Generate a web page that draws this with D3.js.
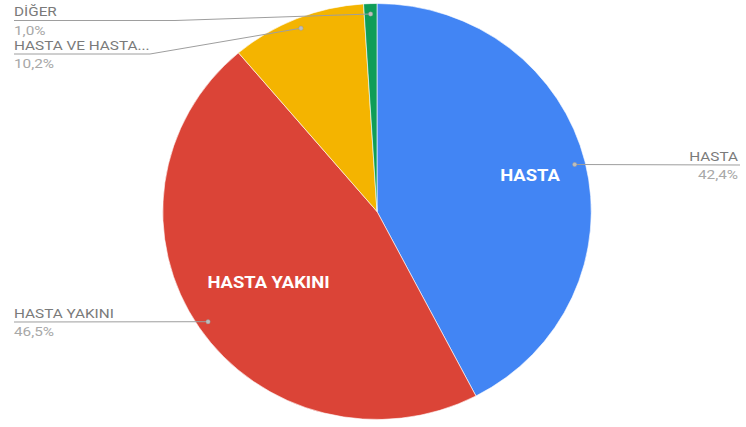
<!DOCTYPE html>
<html>
<head>
<meta charset="utf-8">
<script src="https://cdn.jsdelivr.net/npm/d3@7"></script>
<style>
  html, body { margin: 0; padding: 0; background: #fff; }
  svg { display: block; }
  text { font-family: Roboto, "Noto Sans", Arial, sans-serif; }
</style>
</head>
<body>
<svg id="chart" width="746" height="427"></svg>
<script>
// Distribution of respondents
const categories = ["HASTA", "HASTA YAKINI", "HASTA VE HASTA YAKINI", "DİĞER"];
const shortNames = ["HASTA", "HASTA YAKINI", "HASTA VE HASTA...", "DİĞER"];
const values = [42.4, 46.5, 10.2, 1.0];
const colors = ["#4285F4", "#DB4437", "#F4B400", "#0F9D58"];
const showInside = [true, true, false, false];

const W = 746, H = 427;
const cx = 377, cy = 211.5;
const r = 208;        // pie radius
const sx = 1.03;      // slight horizontal stretch of the pie
const textSx = 1.18;  // horizontal stretch of outside labels
const insideSx = 1.15;

const svg = d3.select("#chart");

const pie = d3.pie().sort(null).value(d => d.value);
const data = categories.map((c, i) => ({ name: c, short: shortNames[i], value: values[i], color: colors[i], inside: showInside[i] }));
const arcs = pie(data);

const arc = d3.arc().innerRadius(0).outerRadius(r);

const g = svg.append("g").attr("transform", `translate(${cx},${cy}) scale(${sx},1)`);
g.selectAll("path.slice")
  .data(arcs)
  .enter().append("path")
  .attr("class", "slice")
  .attr("d", arc)
  .attr("fill", d => d.data.color)
  .attr("stroke", "#fff")
  .attr("stroke-width", 0.6);

// Inside labels, placed along each slice's mid-angle
const insideRadius = { "HASTA": 0.735, "HASTA YAKINI": 0.61 };
function midAngle(d) { return (d.startAngle + d.endAngle) / 2; }

svg.selectAll("text.inside")
  .data(arcs.filter(d => d.data.inside))
  .enter().append("text")
  .attr("class", "inside")
  .attr("transform", d => {
    const a = midAngle(d), k = r * insideRadius[d.data.name];
    return `translate(${cx + sx * k * Math.sin(a)},${cy - k * Math.cos(a)}) scale(${insideSx},1)`;
  })
  .attr("text-anchor", "middle")
  .attr("dy", "0.36em")
  .attr("fill", "#fff")
  .attr("font-weight", "bold")
  .attr("font-size", 16)
  .text(d => d.data.name);

// Leader-line anchors on the slices
function anchor(d) {
  const a = midAngle(d);
  const k = r * 0.95;
  return [cx + sx * k * Math.sin(a), cy - k * Math.cos(a)];
}

// Label placement: side and line height for each slice
const labelLayout = {
  "HASTA":                 { side: "right", y: 165, bend: null },
  "HASTA YAKINI":          { side: "left",  y: 322, bend: null },
  "HASTA VE HASTA YAKINI": { side: "left",  y: 54,  bend: 150 },
  "DİĞER":                 { side: "left",  y: 20.5, bend: 175 }
};

const lineColor = "#9e9e9e";
const labelG = svg.append("g");

arcs.forEach(d => {
  const L = labelLayout[d.data.name];
  const [ax, ay] = anchor(d);
  let pts;
  if (L.side === "right") {
    pts = [[ax, ay], [740, L.y]];
  } else if (L.bend === null) {
    pts = [[ax, ay], [14, L.y]];
  } else {
    pts = [[ax, ay], [L.bend, L.y], [14, L.y]];
  }
  labelG.append("path")
    .attr("d", d3.line()(pts))
    .attr("fill", "none")
    .attr("stroke", lineColor)
    .attr("stroke-width", 1);

  labelG.append("circle")
    .attr("cx", ax).attr("cy", ay).attr("r", 2.2)
    .attr("fill", "#bdbdbd")
    .attr("stroke", "#8a8a8a")
    .attr("stroke-width", 0.6)
    .attr("stroke-opacity", 0.6);

  const tx = L.side === "right" ? 738 : 14;
  const anchorTxt = L.side === "right" ? "end" : "start";
  labelG.append("text")
    .attr("transform", `translate(${tx},${L.y - 4.5}) scale(${textSx},1)`)
    .attr("text-anchor", anchorTxt)
    .attr("font-size", 13)
    .attr("fill", "#7a7a7a")
    .text(d.data.short);
  labelG.append("text")
    .attr("transform", `translate(${tx},${L.y + 14}) scale(${textSx},1)`)
    .attr("text-anchor", anchorTxt)
    .attr("font-size", 13)
    .attr("fill", "#a8a8a8")
    .text(d3.format(".1f")(d.data.value).replace(".", ",") + "%");
});
</script>
</body>
</html>
